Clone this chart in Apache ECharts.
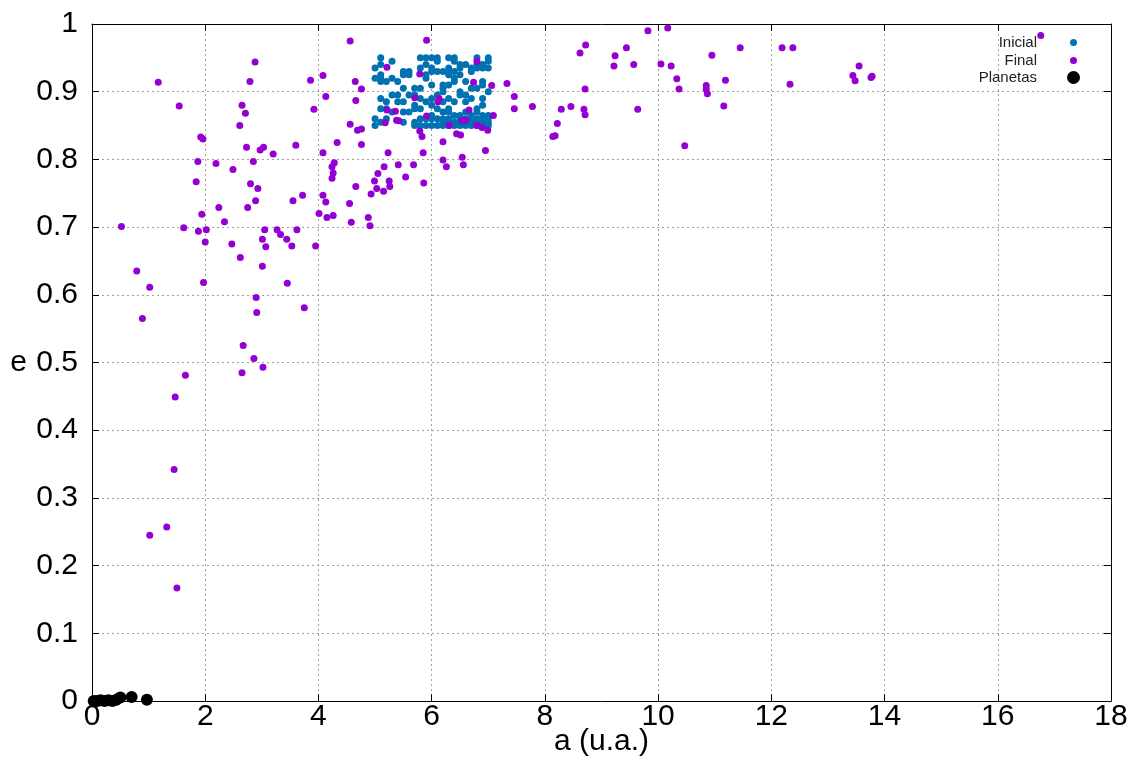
<!DOCTYPE html>
<html>
<head>
<meta charset="utf-8">
<title>a vs e</title>
<script src="https://cdn.jsdelivr.net/npm/echarts@6/dist/echarts.min.js"></script>
<style>
  html, body { margin: 0; padding: 0; background: #ffffff; overflow: hidden; }
  #chart { width: 1137px; height: 760px; }
</style>
</head>
<body>
<div id="chart"></div>
<script>
// Axis ticks
var xTicks = [0, 2, 4, 6, 8, 10, 12, 14, 16, 18];
var yTicks = [0, 0.1, 0.2, 0.3, 0.4, 0.5, 0.6, 0.7, 0.8, 0.9, 1];

// Initial conditions: semi-major axis columns and the eccentricities sampled in each
var initA = [5.0, 5.1, 5.2, 5.3, 5.4, 5.5, 5.6, 5.7, 5.8, 5.9, 6.0, 6.1, 6.2, 6.3, 6.4, 6.5, 6.6, 6.7, 6.8, 6.9, 7.0];
var initE = [
  [0.935, 0.92, 0.86, 0.85],
  [0.95, 0.94, 0.925, 0.92, 0.915, 0.89, 0.875, 0.855],
  [0.915, 0.885, 0.875, 0.86],
  [0.945, 0.92, 0.895, 0.87],
  [0.915, 0.895, 0.885],
  [0.93, 0.925, 0.905, 0.885, 0.87, 0.855],
  [0.93, 0.925, 0.895, 0.87],
  [0.905, 0.895, 0.88, 0.875, 0.855, 0.85],
  [0.95, 0.935, 0.905, 0.89, 0.875, 0.86, 0.85],
  [0.95, 0.94, 0.925, 0.92, 0.885, 0.86, 0.85],
  [0.95, 0.935, 0.93, 0.91, 0.89, 0.88, 0.865, 0.86, 0.85],
  [0.95, 0.945, 0.93, 0.895, 0.875, 0.86, 0.85],
  [0.93, 0.91, 0.905, 0.9, 0.885, 0.87, 0.86, 0.855, 0.85],
  [0.95, 0.935, 0.93, 0.925, 0.91, 0.89, 0.875, 0.87, 0.86, 0.855, 0.85],
  [0.95, 0.945, 0.93, 0.92, 0.915, 0.885, 0.865, 0.855, 0.85],
  [0.94, 0.935, 0.925, 0.9, 0.895, 0.865, 0.86, 0.855, 0.85],
  [0.94, 0.915, 0.895, 0.885, 0.87, 0.86, 0.855, 0.85],
  [0.935, 0.93, 0.905, 0.89, 0.865, 0.86, 0.855, 0.85],
  [0.95, 0.94, 0.935, 0.905, 0.875, 0.87, 0.86, 0.855, 0.85],
  [0.94, 0.935, 0.915, 0.91, 0.89, 0.88, 0.865, 0.86, 0.855, 0.85],
  [0.95, 0.945, 0.935, 0.9, 0.865, 0.86, 0.855, 0.85]
];

// Final state of each body: semi-major axis (u.a.) and eccentricity
var finalA = [
  4.56, 2.88, 1.17, 2.79, 3.86, 4.08, 4.65, 4.76, 1.54, 4.13,
  4.66, 2.65, 2.71, 3.92, 2.61, 4.56, 4.69, 4.76, 1.92, 1.96,
  2.73, 2.97, 3.03, 3.20, 3.60, 4.33, 4.76, 4.08, 1.87, 2.19,
  2.85, 2.49, 4.28, 4.24, 4.26, 4.24, 1.84, 2.80, 2.93, 4.66,
  4.99, 5.05, 5.03, 4.93, 3.72, 3.55, 4.08, 4.13, 4.55, 2.89,
  2.75, 2.24, 1.94, 2.34, 4.01, 4.15, 4.26, 4.58, 4.88, 4.91,
  0.52, 1.62, 1.88, 2.02, 2.00, 2.47, 3.01, 3.05, 3.27, 3.33,
  3.44, 3.62, 3.53, 3.07, 3.95, 2.62, 3.01, 0.79, 1.02, 1.97,
  3.45, 2.90, 3.75, 0.89, 2.91, 2.67, 2.86, 3.02, 2.65, 1.65,
  1.47, 1.45, 1.32, 1.02, 1.50, 5.91, 5.23, 5.16, 5.15, 5.25,
  5.26, 5.41, 5.54, 5.68, 5.85, 5.86, 6.20, 6.20, 6.26, 6.54,
  6.56, 6.95, 5.79, 5.83, 6.44, 6.51, 5.21, 5.79, 6.80, 6.74,
  7.06, 7.33, 7.46, 7.46, 7.78, 5.70, 6.13, 6.11, 5.21, 5.36,
  5.91, 5.38, 5.42, 5.18, 6.66, 6.54, 6.60, 7.09, 6.31, 6.80,
  6.89, 6.99, 9.82, 10.17, 8.72, 8.62, 9.44, 9.24, 9.22, 9.57,
  10.05, 10.23, 10.33, 10.37, 10.95, 11.45, 12.19, 12.38, 11.19, 10.85,
  10.85, 10.87, 12.33, 11.16, 9.64, 10.47, 8.71, 8.29, 8.46, 8.69,
  8.71, 8.22, 8.14, 8.18, 16.76, 13.55, 13.44, 13.48, 13.76, 13.78
];
var finalE = [
  0.975, 0.944, 0.914, 0.915, 0.917, 0.924, 0.915, 0.904, 0.879, 0.893,
  0.887, 0.880, 0.868, 0.874, 0.850, 0.852, 0.843, 0.845, 0.833, 0.830,
  0.818, 0.814, 0.818, 0.808, 0.821, 0.825, 0.822, 0.810, 0.797, 0.794,
  0.797, 0.785, 0.795, 0.789, 0.780, 0.772, 0.767, 0.764, 0.757, 0.760,
  0.768, 0.779, 0.757, 0.749, 0.747, 0.739, 0.747, 0.737, 0.735, 0.739,
  0.729, 0.729, 0.719, 0.708, 0.720, 0.714, 0.717, 0.707, 0.714, 0.702,
  0.701, 0.699, 0.694, 0.696, 0.678, 0.675, 0.682, 0.696, 0.696, 0.689,
  0.682, 0.696, 0.672, 0.671, 0.672, 0.655, 0.642, 0.635, 0.611, 0.618,
  0.617, 0.596, 0.581, 0.565, 0.574, 0.525, 0.506, 0.493, 0.485, 0.481,
  0.449, 0.342, 0.257, 0.245, 0.167, 0.976, 0.810, 0.789, 0.753, 0.768,
  0.760, 0.792, 0.774, 0.792, 0.810, 0.765, 0.826, 0.799, 0.789, 0.803,
  0.792, 0.813, 0.842, 0.834, 0.838, 0.836, 0.936, 0.926, 0.945, 0.914,
  0.909, 0.912, 0.893, 0.875, 0.878, 0.891, 0.890, 0.885, 0.873, 0.871,
  0.864, 0.858, 0.857, 0.854, 0.873, 0.858, 0.858, 0.865, 0.850, 0.850,
  0.847, 0.843, 0.990, 0.994, 0.969, 0.957, 0.965, 0.953, 0.938, 0.940,
  0.941, 0.938, 0.919, 0.904, 0.954, 0.965, 0.965, 0.965, 0.917, 0.909,
  0.904, 0.897, 0.911, 0.879, 0.874, 0.820, 0.904, 0.874, 0.878, 0.874,
  0.866, 0.853, 0.834, 0.835, 0.983, 0.938, 0.924, 0.916, 0.921, 0.923
];

// Planets
var planetA = [0.03, 0.09, 0.15, 0.22, 0.29, 0.36, 0.43, 0.50, 0.70, 0.97];
var planetE = [0.0, 0.0, 0.001, 0.0, 0.001, 0.0, 0.002, 0.005, 0.006, 0.002];

function pairs(xs, ys) {
  var out = [];
  for (var i = 0; i < xs.length; i++) out.push([xs[i], ys[i]]);
  return out;
}
var initData = [];
initA.forEach(function (a, k) {
  initE[k].forEach(function (e) { initData.push([a, e]); });
});

var FONT = 'Liberation Sans';
var gridLine = { show: true, lineStyle: { color: '#a0a0a0', type: [2, 3], width: 1 } };
var axisLine = { show: true, onZero: false, lineStyle: { color: '#000000', width: 1 } };
var tick = { show: true, inside: true, length: 7, lineStyle: { color: '#000000' } };

var chart = echarts.init(document.getElementById('chart'), null, { renderer: 'canvas' });
chart.setOption({
  animation: false,
  backgroundColor: '#ffffff',
  textStyle: { fontFamily: FONT },
  grid: { left: 92, right: 26, top: 24, bottom: 59, containLabel: false, outerBoundsMode: 'none' },
  xAxis: [{
    type: 'value', min: xTicks[0], max: xTicks[xTicks.length - 1], interval: 2,
    position: 'bottom',
    name: 'a (u.a.)', nameLocation: 'middle', nameGap: 26, nameMoveOverlap: false,
    nameTextStyle: { fontSize: 30, color: '#000', fontFamily: FONT },
    axisLine: axisLine, axisTick: tick, splitLine: gridLine,
    axisLabel: { fontSize: 30, color: '#000', margin: 1, fontFamily: FONT }
  }, {
    type: 'value', min: xTicks[0], max: xTicks[xTicks.length - 1], interval: 2,
    position: 'top',
    axisLine: axisLine, axisTick: tick, splitLine: { show: false },
    axisLabel: { show: false }
  }],
  yAxis: [{
    type: 'value', min: yTicks[0], max: yTicks[yTicks.length - 1], interval: 0.1,
    position: 'left',
    name: 'e', nameLocation: 'middle', nameGap: 65, nameRotate: 0, nameMoveOverlap: false,
    nameTextStyle: { fontSize: 30, color: '#000', fontFamily: FONT },
    axisLine: axisLine, axisTick: tick, splitLine: gridLine,
    axisLabel: { fontSize: 30, color: '#000', margin: 14, fontFamily: FONT }
  }, {
    type: 'value', min: yTicks[0], max: yTicks[yTicks.length - 1], interval: 0.1,
    position: 'right',
    axisLine: axisLine, axisTick: tick, splitLine: { show: false },
    axisLabel: { show: false }
  }],
  legend: [
    { data: ['Inicial'], right: 60, top: 35, orient: 'vertical', align: 'right', padding: 0,
      itemWidth: 7, itemHeight: 7, itemGap: 0,
      textStyle: { fontSize: 15, color: '#222', fontFamily: FONT, padding: [0, 28, 0, 0] } },
    { data: ['Final'], right: 60, top: 53, orient: 'vertical', align: 'right', padding: 0,
      itemWidth: 7, itemHeight: 7, itemGap: 0,
      textStyle: { fontSize: 15, color: '#222', fontFamily: FONT, padding: [0, 28, 0, 0] } },
    { data: ['Planetas'], right: 57, top: 70, orient: 'vertical', align: 'right', padding: 0,
      itemWidth: 13, itemHeight: 13, itemGap: 0,
      textStyle: { fontSize: 15, color: '#222', fontFamily: FONT, padding: [0, 25, 0, 0] } }
  ],
  series: [{
    name: 'Inicial', type: 'scatter', symbol: 'circle', symbolSize: 7,
    itemStyle: { color: '#0072b2', opacity: 1 },
    data: initData
  }, {
    name: 'Final', type: 'scatter', symbol: 'circle', symbolSize: 7,
    itemStyle: { color: '#9400d3', opacity: 1 },
    data: pairs(finalA, finalE)
  }, {
    name: 'Planetas', type: 'scatter', symbol: 'circle', symbolSize: 12, clip: false,
    itemStyle: { color: '#000000', opacity: 1 },
    data: pairs(planetA, planetE)
  }]
});
</script>
</body>
</html>
